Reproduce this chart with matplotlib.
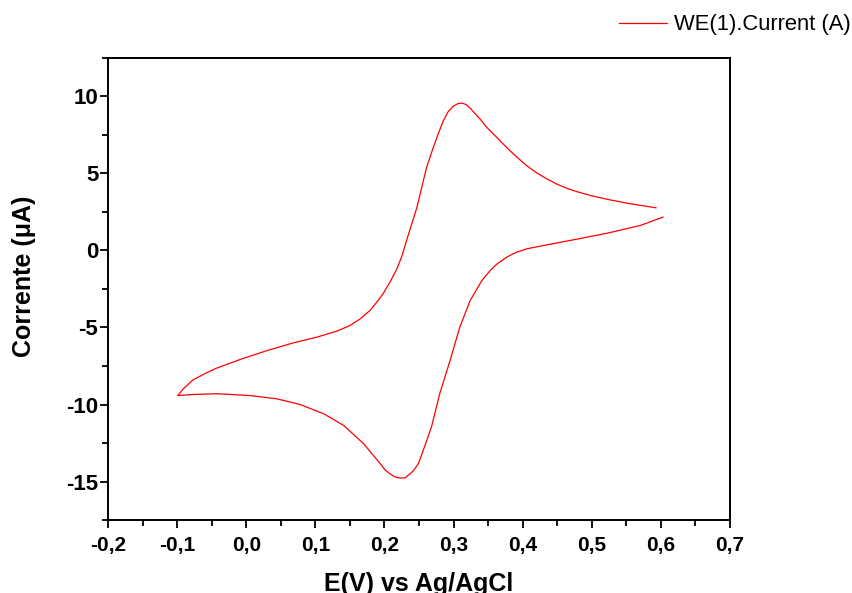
import numpy as np
import matplotlib.pyplot as plt
import matplotlib.ticker as ticker

plt.rcParams['font.family'] = ['Liberation Sans', 'DejaVu Sans']
plt.rcParams['axes.unicode_minus'] = False

# cyclic voltammogram: start at 0.6 V, sweep down to -0.1 V, then back up
potential = [0.603, 0.570, 0.522, 0.473, 0.425, 0.406, 0.391, 0.377, 0.363,
             0.353, 0.341, 0.324, 0.309, 0.295, 0.280, 0.268, 0.256, 0.249,
             0.242, 0.237, 0.230, 0.223, 0.215, 0.208, 0.201, 0.194, 0.170,
             0.141, 0.112, 0.078, 0.044, 0.006, -0.043, -0.077, -0.099,
             -0.091, -0.077, -0.060, -0.043, -0.009, 0.030, 0.068, 0.102,
             0.131, 0.150, 0.165, 0.179, 0.189, 0.198, 0.208, 0.218, 0.225,
             0.232, 0.247, 0.261, 0.270, 0.278, 0.285, 0.292, 0.299, 0.306,
             0.312, 0.318, 0.324, 0.330, 0.340, 0.348, 0.358, 0.367, 0.380,
             0.392, 0.406, 0.420, 0.435, 0.450, 0.465, 0.480, 0.500, 0.525,
             0.550, 0.575, 0.593]
current = [2.17, 1.62, 1.12, 0.69, 0.28, 0.11, -0.11, -0.43, -0.87,
           -1.30, -1.95, -3.25, -4.98, -7.14, -9.30, -11.47, -13.0, -13.85,
           -14.3, -14.5, -14.76, -14.78, -14.7, -14.5, -14.25, -13.85, -12.55,
           -11.36, -10.6, -10.0, -9.63, -9.42, -9.30, -9.35, -9.42,
           -8.98, -8.4, -8.0, -7.64, -7.08, -6.5, -6.0, -5.63,
           -5.24, -4.87, -4.44, -3.9, -3.35, -2.81, -2.06, -1.19, -0.4,
           0.65, 2.8, 5.4, 6.6, 7.6, 8.4, 9.0, 9.35, 9.53,
           9.57, 9.48, 9.25, 8.95, 8.45, 8.0, 7.55, 7.14, 6.55,
           6.05, 5.5, 5.05, 4.65, 4.3, 4.02, 3.8, 3.55, 3.3,
           3.08, 2.9, 2.77]

xlim = (-0.2, 0.7)
ylim = (-17.5, 12.5)

fig = plt.figure(figsize=(8.53, 5.93), dpi=100)
ax = fig.add_axes([0.1266, 0.1231, 0.7292, 0.7791])

ax.plot(potential, current, color='red', linewidth=0.9, label='WE(1).Current (A)')

ax.set_xlim(*xlim)
ax.set_ylim(*ylim)
ax.xaxis.set_major_locator(ticker.MultipleLocator(0.1))
ax.xaxis.set_minor_locator(ticker.MultipleLocator(0.05))
ax.yaxis.set_major_locator(ticker.MultipleLocator(5))
ax.yaxis.set_minor_locator(ticker.MultipleLocator(2.5))
ax.xaxis.set_major_formatter(
    ticker.FuncFormatter(lambda v, _: f"{round(v, 1) + 0:.1f}".replace('.', ',')))
ax.yaxis.set_major_formatter(ticker.FuncFormatter(lambda v, _: f"{int(round(v))}"))

ax.tick_params(which='both', direction='out', top=False, right=False, width=1.3)
ax.tick_params(which='major', length=6)
ax.tick_params(axis='x', which='major', pad=5.5, labelsize=15)
ax.tick_params(axis='y', which='major', pad=1, labelsize=16)
ax.tick_params(which='minor', length=4)
for lab in ax.get_xticklabels() + ax.get_yticklabels():
    lab.set_fontweight('bold')
for sp in ax.spines.values():
    sp.set_linewidth(1.4)

ax.set_xlabel('E(V) vs Ag/AgCl', fontsize=18, fontweight='bold')
ax.set_ylabel('Corrente (μA)', fontsize=18, fontweight='bold')
ax.xaxis.set_label_coords(0.5, -0.113)
ax.yaxis.set_label_coords(-0.116, 0.528)

fig.legend(loc='center left', bbox_to_anchor=(0.7257, 0.958), frameon=False,
           fontsize=15.8, handlelength=2.2, handletextpad=0.3,
           borderpad=0, borderaxespad=0)

fig.savefig('out.png', dpi=100)
